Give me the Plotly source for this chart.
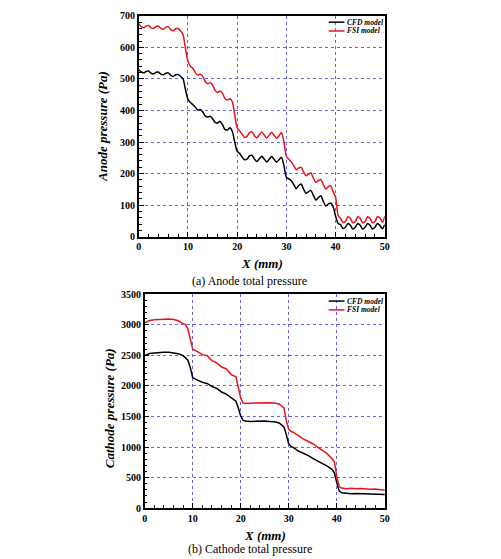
import plotly.graph_objects as go
from plotly.subplots import make_subplots

W, H = 501, 559

# ---------------- data ----------------
x_anode = [i * 0.5 for i in range(101)]
anode_cfd = [529, 522, 519, 524, 525, 518, 516, 521, 522, 515,
             513, 518, 519, 511, 508, 513, 514, 508, 500, 465,
             435, 425, 418, 410, 401, 403, 395, 383, 379, 382,
             374, 362, 360, 366, 355, 340, 338, 345, 334, 300,
             270, 264, 252, 244, 246, 256, 258, 246, 238, 247,
             255, 246, 237, 245, 254, 245, 236, 244, 252, 225,
             188, 183, 177, 165, 152, 162, 167, 150, 137, 143,
             146, 130, 116, 124, 130, 112, 97, 103, 107, 95,
             65, 42, 38, 26, 30, 42, 36, 24, 30, 42,
             36, 24, 30, 42, 36, 24, 30, 42, 36, 25,
             38]
anode_fsi = [674, 666, 662, 668, 669, 662, 660, 666, 667, 660,
             657, 664, 665, 656, 653, 659, 660, 652, 640, 595,
             555, 540, 533, 520, 512, 515, 508, 492, 485, 488,
             480, 464, 457, 462, 455, 438, 433, 437, 428, 385,
             345, 335, 325, 314, 318, 330, 332, 320, 313, 322,
             332, 322, 313, 321, 331, 321, 312, 320, 330, 300,
             255, 245, 237, 225, 212, 218, 220, 205, 193, 198,
             202, 185, 172, 178, 181, 165, 151, 158, 161, 142,
             125, 68, 58, 45, 48, 63, 58, 44, 48, 63,
             58, 44, 48, 63, 58, 44, 48, 63, 60, 46,
             65]

x_cathode = [0, 1, 2, 3, 4, 5, 6, 7, 8, 8.5, 9, 9.5, 10, 11, 12, 13, 14, 15, 16, 17, 18, 19,
             19.5, 20, 20.5, 21, 22, 23, 24, 25, 26, 27, 28, 29, 29.5, 30, 30.5, 31, 32, 33,
             34, 35, 36, 37, 38, 39, 39.5, 40, 40.5, 41, 42, 43, 44, 45, 46, 47, 48, 49, 50]
cathode_cfd = [2496, 2530, 2540, 2548, 2550, 2549, 2540, 2525, 2495, 2460, 2420, 2300, 2135,
               2095, 2060, 2040, 1990, 1960, 1900, 1865, 1800, 1750, 1640, 1505, 1437, 1425,
               1420, 1425, 1420, 1425, 1418, 1415, 1395, 1330, 1200, 1050, 1010, 990, 935,
               905, 865, 815, 775, 735, 690, 635, 580, 420, 280, 252, 240, 236, 240, 232,
               236, 234, 230, 232, 224]
cathode_fsi = [3030, 3070, 3083, 3090, 3100, 3095, 3085, 3065, 3020, 3003, 2930, 2760, 2600,
               2560, 2512, 2495, 2415, 2378, 2310, 2280, 2186, 2148, 1960, 1800, 1721, 1712,
               1718, 1722, 1725, 1728, 1725, 1720, 1705, 1640, 1430, 1290, 1255, 1240, 1186,
               1135, 1095, 1055, 1000, 945, 892, 812, 760, 520, 355, 330, 320, 328, 318, 322,
               312, 310, 315, 305, 295]

series_names = ["CFD model", "FSI model"]
series_colors = ["#000000", "#e8141c"]
# --------------------------------------

SERIF = "Liberation Serif"

fig = make_subplots(rows=2, cols=1)

for name, col, ys in zip(series_names, series_colors, [anode_cfd, anode_fsi]):
    fig.add_trace(go.Scatter(x=x_anode, y=ys, mode="lines", name=name, showlegend=False,
                             line=dict(color=col, width=1.5, shape="spline", smoothing=0.6)),
                  row=1, col=1)
for name, col, ys in zip(series_names, series_colors, [cathode_cfd, cathode_fsi]):
    fig.add_trace(go.Scatter(x=x_cathode, y=ys, mode="lines", name=name, showlegend=False,
                             line=dict(color=col, width=1.5)),
                  row=2, col=1)

def px(x):
    return x / W

def py(y):
    return 1 - y / H

grid_col = "rgba(70,70,225,0.85)"
tickfont = dict(family=SERIF, size=10, color="black", weight="bold")

common_x = dict(range=[0, 50], dtick=10, tick0=0, showline=True, linecolor="black", linewidth=1.5,
                mirror=True, ticks="inside", ticklen=5, tickwidth=1, tickcolor="black",
                showgrid=True, gridcolor=grid_col, griddash="dot", gridwidth=1,
                zeroline=False, tickfont=tickfont,
                minor=dict(ticks="inside", ticklen=3, dtick=2, tickcolor="black", showgrid=False))
common_y = dict(showline=True, linecolor="black", linewidth=1.5, mirror=True,
                ticks="inside", ticklen=5, tickwidth=1, tickcolor="black",
                showgrid=True, gridcolor=grid_col, griddash="dot", gridwidth=1,
                zeroline=False, tickfont=tickfont)

fig.update_layout(
    xaxis=dict(domain=[px(138), px(388)], anchor="y", **common_x),
    yaxis=dict(domain=[py(235.3), py(10)], anchor="x", range=[0, 700], dtick=100,
               minor=dict(ticks="inside", ticklen=3, dtick=20, tickcolor="black", showgrid=False),
               **common_y),
    xaxis2=dict(domain=[px(144), px(388)], anchor="y2", **common_x),
    yaxis2=dict(domain=[py(512.3), py(294)], anchor="x2", range=[0, 3500], dtick=500,
                minor=dict(ticks="inside", ticklen=3, dtick=100, tickcolor="black", showgrid=False),
                **common_y),
    width=W, height=H,
    margin=dict(l=0, r=0, t=0, b=0),
    paper_bgcolor="white", plot_bgcolor="white",
    showlegend=False,
)

# manual legends (line samples + labels) in both panels
leg_font = dict(family=SERIF, size=7.5, color="black", weight="bold", style="italic")
for top in (16.5, 301):
    for k, (name, col) in enumerate(zip(series_names, series_colors)):
        yy = top + 9 * k
        fig.add_shape(type="line", xref="paper", yref="paper",
                      x0=px(331), x1=px(347), y0=py(yy), y1=py(yy),
                      line=dict(color=col, width=1.5))
        fig.add_annotation(xref="paper", yref="paper", showarrow=False,
                           x=px(348), y=py(yy), xanchor="left", yanchor="middle",
                           text=name, font=leg_font)

title_font = dict(family=SERIF, size=13, color="black", weight="bold", style="italic")
cap_font = dict(family=SERIF, size=12, color="black")

annots = [
    dict(text="Anode pressure (Pa)", x=px(101), y=py(123), textangle=-90, font=title_font),
    dict(text="Cathode pressure (Pa)", x=px(109), y=py(410), textangle=-90, font=title_font),
    dict(text="X (mm)", x=px(263), y=py(263), font=title_font),
    dict(text="X (mm)", x=px(266), y=py(540), font=title_font),
    dict(text="(a) Anode total pressure", x=px(250), y=py(281), font=cap_font),
    dict(text="(b) Cathode total pressure", x=px(251), y=py(554), font=cap_font),
]
for a in annots:
    fig.add_annotation(xref="paper", yref="paper", showarrow=False,
                       xanchor="center", yanchor="middle", **a)

fig.write_html("out.html")
